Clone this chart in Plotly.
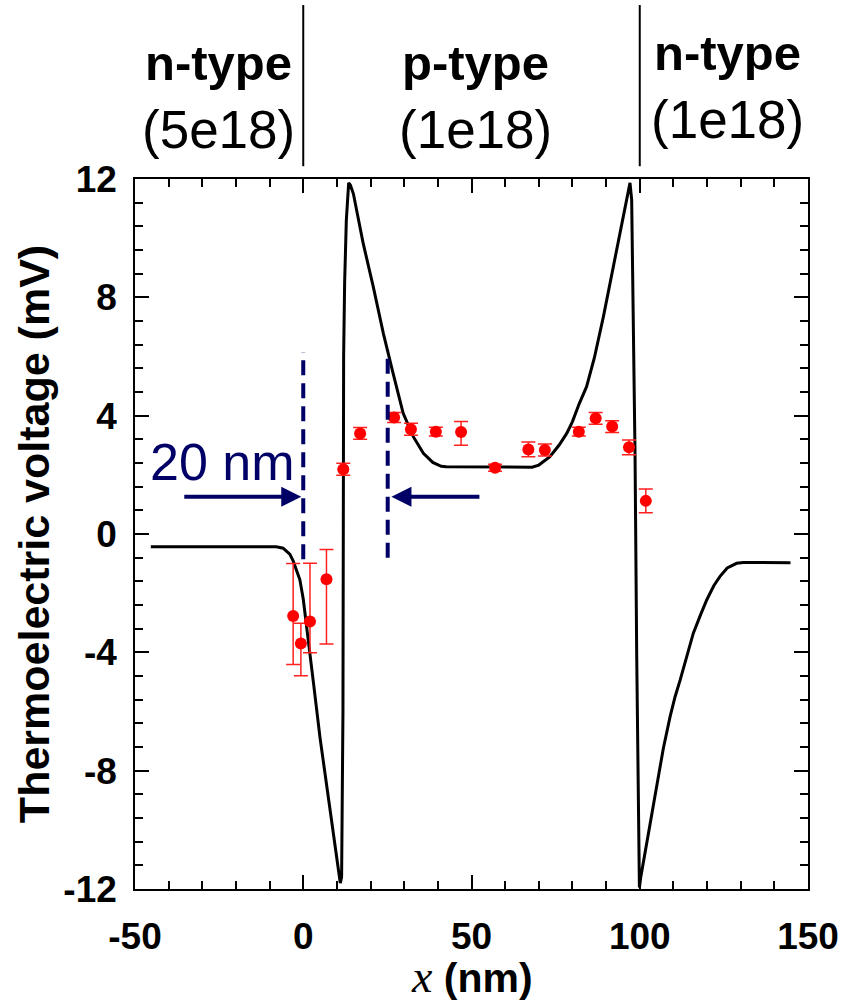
import plotly.graph_objects as go

# Simulated thermoelectric voltage profile across the n-p-n structure
x_curve = [-45.3, -8.0, -6.0, -4.0, -3.0, -2.0, -1.0, 0.0, 1.0, 2.0, 3.0, 5.0, 7.0, 9.0,
           10.5, 11.0, 11.4, 11.8, 11.9, 12.0, 12.3, 12.8, 13.5, 14.0, 14.9, 16.3, 17.8,
           20.8, 23.8, 26.7, 29.7, 32.7, 35.7, 38.5, 41.0, 42.5, 68.0, 70.0, 73.3, 76.0,
           78.3, 80.0, 82.0, 84.2, 86.5, 89.2, 92.1, 94.5, 96.3, 97.1, 97.6, 98.0,
           98.3, 98.6, 99.1, 99.6, 99.9, 100.3, 102.0, 105.0, 107.0, 109.0, 110.5, 112.0,
           114.0, 115.9, 118.0, 119.9, 122.0, 123.8, 126.0, 128.8, 130.8, 144.8]
y_curve = [-0.43, -0.43, -0.48, -0.68, -0.91, -1.2, -1.55, -2.2, -3.1, -4.0, -5.0, -6.9,
           -8.5, -10.1, -11.4, -11.8, -11.6, -6.0, 0.0, 6.0, 8.5, 10.6, 11.87, 11.8, 11.5,
           10.7, 9.83, 8.36, 6.78, 5.43, 4.08, 3.29, 2.73, 2.42, 2.29, 2.27, 2.26, 2.33,
           2.61, 3.0, 3.4, 3.8, 4.4, 4.98, 5.95, 7.35, 9.0, 10.35, 11.35, 11.87, 11.3,
           8.0, 5.0, 2.7, -4.15, -10.1, -11.95, -11.6, -10.5, -8.43, -7.25, -6.18, -5.5,
           -4.94, -4.1, -3.36, -2.75, -2.23, -1.75, -1.44, -1.15, -0.99, -0.96, -0.97]

# Measured thermoelectric voltage with error bars
x_meas = [-3.0, -0.7, 2.0, 6.9, 11.9, 16.9, 27.0, 32.0, 39.4, 46.9, 57.0, 66.9, 71.8,
          81.9, 86.9, 91.8, 96.8, 101.8]
y_meas = [-2.77, -3.70, -2.96, -1.53, 2.19, 3.40, 3.94, 3.54, 3.46, 3.45, 2.24, 2.86,
          2.84, 3.46, 3.91, 3.63, 2.93, 1.12]
err_plus = [1.77, 0.68, 1.97, 1.01, 0.2, 0.2, 0.17, 0.2, 0.15, 0.35, 0.12, 0.25, 0.2,
            0.15, 0.2, 0.2, 0.25, 0.4]
err_minus = [1.64, 1.09, 1.05, 2.19, 0.2, 0.2, 0.17, 0.2, 0.15, 0.45, 0.12, 0.25, 0.2,
             0.15, 0.2, 0.2, 0.25, 0.4]

# Doping regions shown above the frame
region_x = [-25.3, 51.3, 126.2]
region_type = ["n-type", "p-type", "n-type"]
region_dop = ["(5e18)", "(1e18)", "(1e18)"]
boundaries = [0, 100]

# Markers for the 20 nm depletion width
marker_x = [0, 25.1]
marker_y0 = [-0.85, -0.8]
marker_y1 = [6.15, 6.2]

x_ticks = [-50, 0, 50, 100, 150]
y_ticks = [-12, -8, -4, 0, 4, 8, 12]

NAVY = "#000066"
FONT = "Liberation Sans, Arial, sans-serif"

fig = go.Figure()

fig.add_trace(go.Scatter(
    x=x_curve, y=y_curve, mode="lines",
    line=dict(color="black", width=3), showlegend=False,
))

fig.add_trace(go.Scatter(
    x=x_meas, y=y_meas, mode="markers",
    marker=dict(color="#ff0000", size=12),
    error_y=dict(type="data", symmetric=False, array=err_plus, arrayminus=err_minus,
                 color="#ff2020", thickness=1.5, width=7),
    showlegend=False,
))

shapes = []
for bx in boundaries:
    shapes.append(dict(type="line", xref="x", yref="paper", x0=bx, x1=bx,
                       y0=1.018, y1=1.245, line=dict(color="black", width=2)))
for mx, y0, y1 in zip(marker_x, marker_y0, marker_y1):
    shapes.append(dict(type="line", xref="x", yref="y", x0=mx, x1=mx, y0=y0, y1=y1,
                       line=dict(color=NAVY, width=4, dash="15px,8px")))

annotations = []
for i, (rx, rt, rd) in enumerate(zip(region_x, region_type, region_dop)):
    dy = 0.014 if i == 2 else 0.0
    annotations.append(dict(x=rx, xref="x", y=1.163 + dy, yref="paper", text=rt,
                            showarrow=False, xanchor="center", yanchor="middle",
                            font=dict(family=FONT, size=49, color="black", weight="bold")))
    annotations.append(dict(x=rx, xref="x", y=1.07 + dy, yref="paper", text=rd,
                            showarrow=False, xanchor="center", yanchor="middle",
                            font=dict(family=FONT, size=53, color="black")))

# "20 nm" label and arrows pointing at the dashed markers
annotations.append(dict(x=-46, xref="x", y=2.45, yref="y", text="20 nm", showarrow=False,
                        xanchor="left", yanchor="middle",
                        font=dict(family=FONT, size=52, color=NAVY)))
annotations.append(dict(x=-0.6, y=1.26, xref="x", yref="y", ax=-35.8, ay=1.26,
                        axref="x", ayref="y", showarrow=True, arrowhead=2, arrowsize=1,
                        arrowwidth=4, arrowcolor=NAVY, text=""))
annotations.append(dict(x=26.2, y=1.26, xref="x", yref="y", ax=52.8, ay=1.26,
                        axref="x", ayref="y", showarrow=True, arrowhead=2, arrowsize=1,
                        arrowwidth=4, arrowcolor=NAVY, text=""))

# x-axis title, pinned to the bottom edge below the tick labels
annotations.append(dict(
    x=0.5, xref="paper", y=-0.1606, yref="paper", xanchor="center", yanchor="bottom",
    showarrow=False, borderpad=0,
    text="<span style=\"font-family:'Liberation Serif','Times New Roman',serif;"
         "font-weight:normal;font-size:46px\"><i>x</i></span> (nm)",
    font=dict(family=FONT, size=41, color="black", weight="bold"),
))

axis_common = dict(
    showline=True, linecolor="black", linewidth=1.5, mirror="allticks",
    ticks="inside", ticklen=14, tickwidth=1.5, tickcolor="black",
    showgrid=False, zeroline=False,
    tickfont=dict(family=FONT, size=37, color="black", weight="bold"),
)

fig.update_xaxes(
    range=[-50, 150], tickvals=x_ticks, ticktext=[str(v) for v in x_ticks],
    minor=dict(dtick=10, tick0=0, ticks="inside", ticklen=8, tickwidth=1.5,
               tickcolor="black", showgrid=False),
    ticklabelstandoff=14,
    **axis_common,
)
fig.update_yaxes(
    range=[-12, 12], tickvals=y_ticks, ticktext=[str(v) for v in y_ticks],
    minor=dict(dtick=0.8, tick0=0, ticks="inside", ticklen=8, tickwidth=1.5,
               tickcolor="black", showgrid=False),
    ticklabelstandoff=9,
    title=dict(text="Thermoelectric voltage (mV)",
               font=dict(family=FONT, size=43, color="black", weight="bold"), standoff=0),
    **axis_common,
)

fig.update_layout(
    width=857, height=1003,
    margin=dict(l=135, r=49, t=179, b=114),
    plot_bgcolor="white", paper_bgcolor="white",
    shapes=shapes, annotations=annotations,
    showlegend=False,
)

fig.write_html("out.html")
